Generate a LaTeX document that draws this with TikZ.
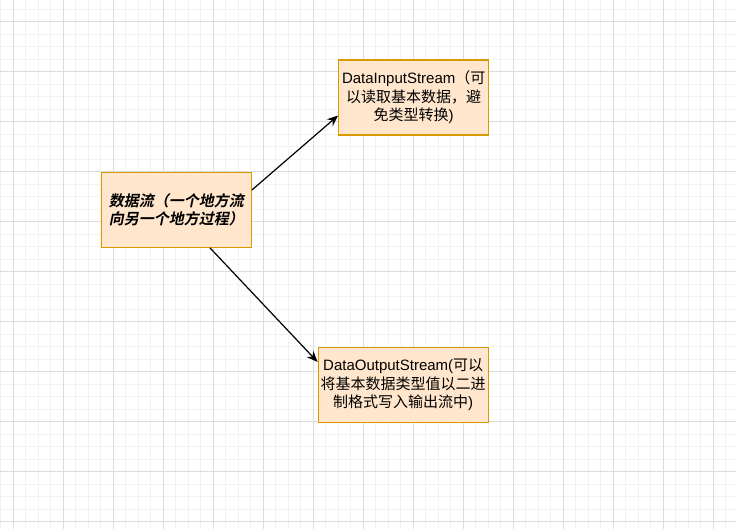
\documentclass[tikz,border=0pt]{standalone}
\usepackage{fontspec}
\setmainfont{Liberation Sans}
\newfontfamily\cjk{Noto Sans CJK SC}
\newfontfamily\cjkbi[FakeSlant=0.2]{Noto Sans CJK SC Bold}
\usetikzlibrary{arrows.meta}
\definecolor{boxfill}{HTML}{FFE6CC}
\definecolor{boxdraw}{HTML}{D79B00}
\definecolor{minorline}{HTML}{F2F2F2}
\definecolor{majorline}{HTML}{DCDCDC}

\begin{document}
\begin{tikzpicture}[
    x=1pt, y=-1pt,
    font=\fontsize{15}{18.5}\selectfont,
    stream/.style={rectangle, draw=boxdraw, fill=boxfill, line width=1.2pt, align=center, minimum height=75pt, inner sep=2pt},
    arrow/.style={line width=1.2pt, -{Stealth[length=11pt, width=9pt]}, black},
    minorgrid/.style={draw=minorline, line width=1pt},
    majorgrid/.style={draw=majorline, line width=1pt}
]

% --- Background grid ---
\useasboundingbox (0,0) rectangle (736,529);
\begin{scope}
\clip (0,0) rectangle (736,529);
\fill[white] (0,0) rectangle (736,529);
\foreach \i in {0,...,59} \draw[minorgrid] ({0.8+12.5*\i},0) -- ++(0,529);
\foreach \j in {0,...,42} \draw[minorgrid] (0,{9.2+12.5*\j}) -- ++(736,0);
\foreach \i in {0,...,14} \draw[majorgrid] ({13.3+50*\i},0) -- ++(0,529);
\foreach \j in {0,...,10} \draw[majorgrid] (0,{21.7+50*\j}) -- ++(736,0);
\end{scope}

% --- Nodes ---
\node (flow) at (176.3, 209.8) [stream, minimum width=150pt] {\cjkbi 数据流（一个地方流\\\cjkbi 向另一个地方过程）};
\node (input) at (413.7, 97.5) [stream, minimum width=150pt] {DataInputStream{\cjk （可}\\{\cjk 以读取基本数据，避}\\{\cjk 免类型转换})};
\node (output) at (403.2, 384.8) [stream, minimum width=170pt] {DataOutputStream({\cjk 可以}\\{\cjk 将基本数据类型值以二进}\\{\cjk 制格式写入输出流中})};

% --- Edges ---
\draw [arrow] ([yshift=19.8pt]flow.east) -- ([yshift=-18pt]input.west);
\draw [arrow] ([xshift=33.7pt]flow.south) -- ([yshift=22.8pt]output.west);

\end{tikzpicture}
\end{document}
